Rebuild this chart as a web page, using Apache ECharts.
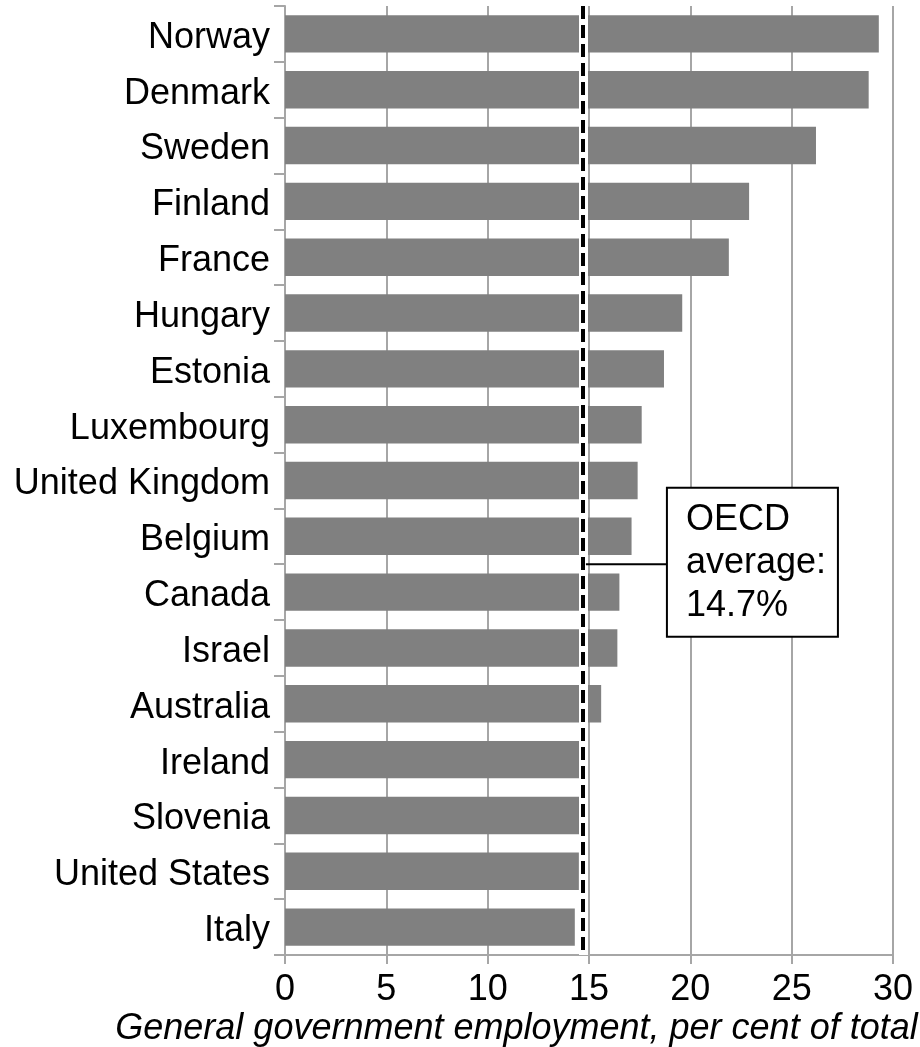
<!DOCTYPE html>
<html>
<head>
<meta charset="utf-8">
<script src="https://cdn.jsdelivr.net/npm/echarts@6/dist/echarts.min.js"></script>
<style>
  html, body { margin: 0; padding: 0; background: #ffffff; }
  #chart { width: 920px; height: 1047px; }
</style>
</head>
<body>
<div id="chart"></div>
<script>
// General government employment as a share of total employment
const countries = ['Norway', 'Denmark', 'Sweden', 'Finland', 'France', 'Hungary', 'Estonia',
  'Luxembourg', 'United Kingdom', 'Belgium', 'Canada', 'Israel', 'Australia', 'Ireland',
  'Slovenia', 'United States', 'Italy'];
const shares = [29.3, 28.8, 26.2, 22.9, 21.9, 19.6, 18.7, 17.6, 17.4, 17.1, 16.5, 16.4, 15.6,
  14.6, 14.7, 14.5, 14.3];
const oecdAverage = 14.7;
const xTicks = [0, 5, 10, 15, 20, 25, 30];
const axisTitle = 'General government employment, per cent of total';
const noteLines = ['OECD', 'average:', oecdAverage + '%'];
const noteAnchor = ['Belgium', 'Canada']; // connector sits between these two rows

const FONT = '"Liberation Sans", Arial, Helvetica, sans-serif';
const FONT_SIZE = 36;
const GRID_GREY = '#a6a6a6';

const chart = echarts.init(document.getElementById('chart'), null, { renderer: 'canvas' });

chart.setOption({
  animation: false,
  backgroundColor: '#ffffff',
  grid: {
    left: 285, right: 27, top: 6, bottom: 92,
    containLabel: false, outerBoundsMode: 'none'
  },
  xAxis: {
    type: 'value',
    min: xTicks[0],
    max: xTicks[xTicks.length - 1],
    interval: xTicks[1] - xTicks[0],
    name: axisTitle,
    nameLocation: 'middle',
    nameGap: 56,
    nameMoveOverlap: false,
    nameTextStyle: {
      fontFamily: FONT, fontSize: FONT_SIZE, fontStyle: 'italic', color: '#000',
      padding: [0, 145, 0, 0]
    },
    axisLine: { show: true, lineStyle: { color: GRID_GREY, width: 2 } },
    axisTick: { show: true, length: 9, lineStyle: { color: GRID_GREY, width: 2 } },
    axisLabel: { fontFamily: FONT, fontSize: FONT_SIZE, color: '#000', margin: 17 },
    splitLine: { show: true, lineStyle: { color: GRID_GREY, width: 2 } }
  },
  yAxis: {
    type: 'category',
    data: countries,
    inverse: true,
    axisLine: { show: true, lineStyle: { color: GRID_GREY, width: 2 } },
    axisTick: { show: true, length: 11, lineStyle: { color: GRID_GREY, width: 2 } },
    axisLabel: {
      margin: 15,
      formatter: (name) => '{c|' + name + '}',
      rich: {
        c: { fontFamily: FONT, fontSize: FONT_SIZE, color: '#000', padding: [8, 0, 0, 0] }
      }
    },
    splitLine: { show: false }
  },
  series: [{
    type: 'bar',
    data: shares,
    barCategoryGap: '33%',
    itemStyle: { color: '#808080' },
    markLine: {
      silent: true,
      symbol: 'none',
      label: { show: false },
      emphasis: { disabled: true },
      data: [
        { xAxis: oecdAverage, lineStyle: { color: '#ffffff', width: 9, type: 'solid' } },
        { xAxis: oecdAverage, lineStyle: { color: '#000000', width: 4, type: [13, 6] } }
      ]
    }
  }]
});

// Callout box for the OECD average, anchored to the average line
function drawNote() {
  const a = chart.convertToPixel({ xAxisIndex: 0, yAxisIndex: 0 }, [oecdAverage, noteAnchor[0]]);
  const b = chart.convertToPixel({ xAxisIndex: 0, yAxisIndex: 0 }, [oecdAverage, noteAnchor[1]]);
  const x = a[0];
  const y = (a[1] + b[1]) / 2;
  const boxLeft = x + 84, boxW = 171, boxH = 149;
  const boxTop = y - boxH / 2 - 2;
  chart.setOption({
    graphic: [
      {
        type: 'line', z: 100,
        shape: { x1: x + 3, y1: y, x2: boxLeft, y2: y },
        style: { stroke: '#000', lineWidth: 2 }
      },
      {
        type: 'rect', z: 100,
        shape: { x: boxLeft, y: boxTop, width: boxW, height: boxH },
        style: { fill: '#ffffff', stroke: '#000', lineWidth: 2 }
      },
      {
        type: 'text', z: 101,
        x: boxLeft + 19, y: boxTop + 11,
        style: {
          text: noteLines.join('\n'),
          fontFamily: FONT, fontSize: FONT_SIZE, lineHeight: 43,
          fill: '#000', align: 'left', verticalAlign: 'top'
        }
      }
    ]
  });
}
drawNote();
</script>
</body>
</html>
